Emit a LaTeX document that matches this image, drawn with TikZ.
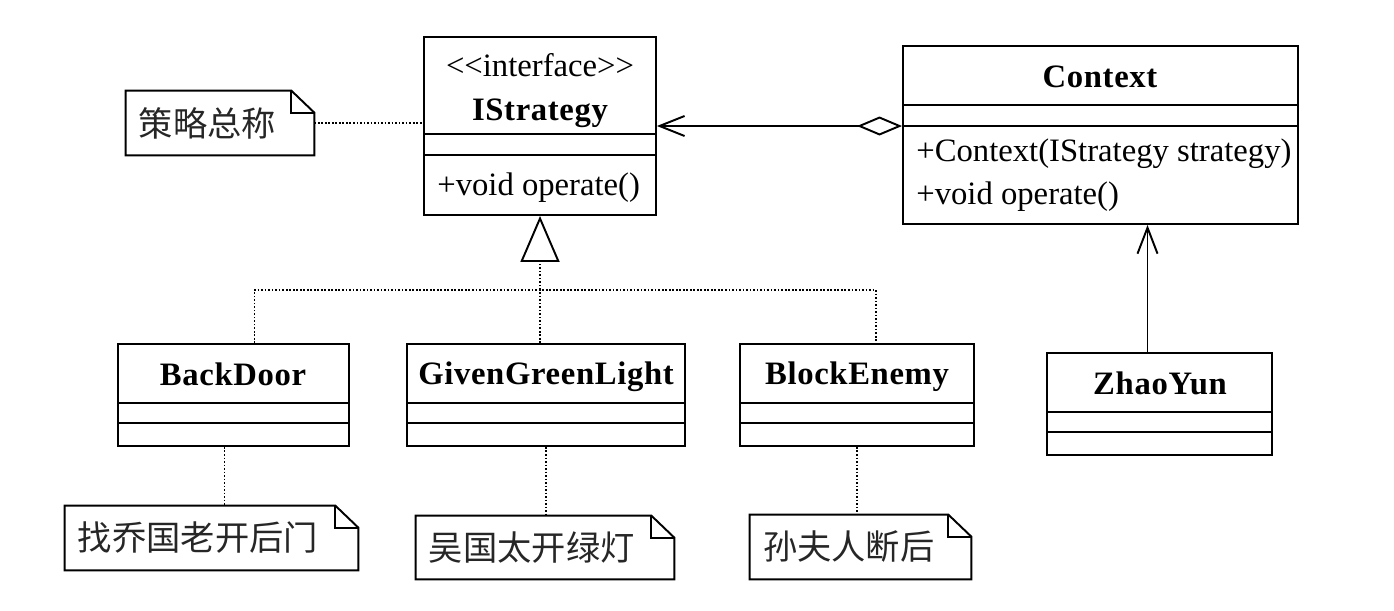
\documentclass[tikz,border=0pt]{standalone}
\usepackage{fontspec}
\setmainfont{Liberation Serif}
\newfontfamily\classfont[LetterSpace=2]{Liberation Serif}
\newfontfamily\cjk{Noto Sans CJK SC}
\usetikzlibrary{arrows.meta,fit}

\newcommand{\umlfont}{\fontsize{18.6pt}{22pt}\selectfont}
\newcommand{\notefont}{\cjk\fontsize{19.5pt}{23pt}\selectfont}

\tikzset{
  classbox/.style={draw, line width=1.1pt, inner sep=0pt},
  classname/.style={anchor=base, inner sep=0pt, font={\classfont\umlfont\bfseries}},
  stereo/.style={anchor=base, inner sep=0pt, font=\umlfont},
  member/.style={anchor=base west, inner sep=0pt, font=\umlfont},
  notebox/.style={inner sep=0pt},
  noteline/.style={line width=1.1pt},
  notetext/.style={anchor=west, inner sep=0pt, font=\notefont, text=black!85},
  dotline/.style={line width=0.7pt, dash pattern=on 1pt off 1pt},
  assoc/.style={line width=1.1pt, -{Straight Barb[length=0.52cm, width=0.4cm]}},
  aggr/.style={line width=1.1pt,
    {Diamond[open, length=0.9cm, width=0.38cm]}-{Straight Barb[length=0.5cm, width=0.4cm]}},
  realize/.style={dotline, -{Triangle[open, line width=1.1pt, length=0.92cm, width=0.78cm]}},
}

% class box with two compartment lines
\newcommand{\umlclass}[7]{%
  \node[classbox, fit={(#2,#3) (#4,#5)}] (#1) {};
  \draw[classbox] (#2,#6) -- (#4,#6) (#2,#7) -- (#4,#7);
}
% note with folded corner
\newcommand{\umlnote}[6]{%
  \node[notebox, fit={(#2,#3) (#4,#5)}] (#1) {};
  \draw[noteline] (#1.south west) -- (#1.north west) -- ([xshift=-0.46cm]#1.north east)
    -- ([yshift=-0.44cm]#1.north east) -- (#1.south east) -- cycle;
  \draw[noteline] ([xshift=-0.46cm]#1.north east) |- ([yshift=-0.44cm]#1.north east);
  \node[notetext] (#1-text) at ([xshift=0.26cm]#1.west) {#6};
}

\begin{document}
\begin{tikzpicture}[x=0.02cm, y=-0.02cm]
\useasboundingbox (0,0) rectangle (1394,610);

% classes
\umlclass{istrategy}{424}{37}{656}{215}{134}{155}
\node[stereo] (istrategy-st) at (540,76)
  {\textless\kern0pt\textless\kern0pt interface\kern0pt\textgreater\kern0pt\textgreater};
\node[classname] (istrategy-name) at (540,120) {IStrategy};
\node[member] (istrategy-op) at (437,195) {+void operate()};

\umlclass{context}{903}{46}{1298}{224}{105}{126}
\node[classname] (context-name) at (1100,87) {Context};
\node[member] (context-ctor) at (916,161) {+Context(IStrategy strategy)};
\node[member] (context-op) at (916,204) {+void operate()};

\umlclass{backdoor}{118}{344}{349}{446}{403}{423}
\node[classname] (backdoor-name) at (233,385) {BackDoor};
\umlclass{greenlight}{407}{344}{685}{446}{403}{423}
\node[classname] (greenlight-name) at (546,384) {GivenGreenLight};
\umlclass{blockenemy}{740}{344}{974}{446}{403}{423}
\node[classname] (blockenemy-name) at (857,384) {BlockEnemy};
\umlclass{zhaoyun}{1047}{353}{1272}{455}{412}{432}
\node[classname] (zhaoyun-name) at (1160,394) {ZhaoYun};

% notes
\umlnote{strategynote}{126}{91}{314}{155}{策略总称}
\umlnote{backdoornote}{65}{506}{358}{570}{找乔国老开后门}
\umlnote{greenlightnote}{416}{516}{674}{579}{吴国太开绿灯}
\umlnote{blockenemynote}{750}{515}{971}{579}{孙夫人断后}

% relations
\draw[dotline] (strategynote.east) -- (strategynote.east -| istrategy.west);
\draw[aggr] (context.west |- istrategy.east) -- (istrategy.east);

\path (istrategy.south) ++(0,74) coordinate (fork);
\draw[dotline] ([xshift=0.42cm]backdoor.north) |- (fork) -| ([xshift=0.38cm]blockenemy.north);
\draw[dotline] (greenlight.north -| fork) -- (fork);
\draw[realize] (fork) -- (istrategy.south);

\coordinate (zy-top) at ([xshift=-0.24cm]zhaoyun.north);
\draw[assoc] (zy-top) -- (zy-top |- context.south);

\coordinate (bd-bottom) at ([xshift=-0.18cm]backdoor.south);
\draw[dotline] (bd-bottom) -- (bd-bottom |- backdoornote.north);
\draw[dotline] (greenlight.south) -- (greenlight.south |- greenlightnote.north);
\draw[dotline] (blockenemy.south) -- (blockenemy.south |- blockenemynote.north);
\end{tikzpicture}
\end{document}
